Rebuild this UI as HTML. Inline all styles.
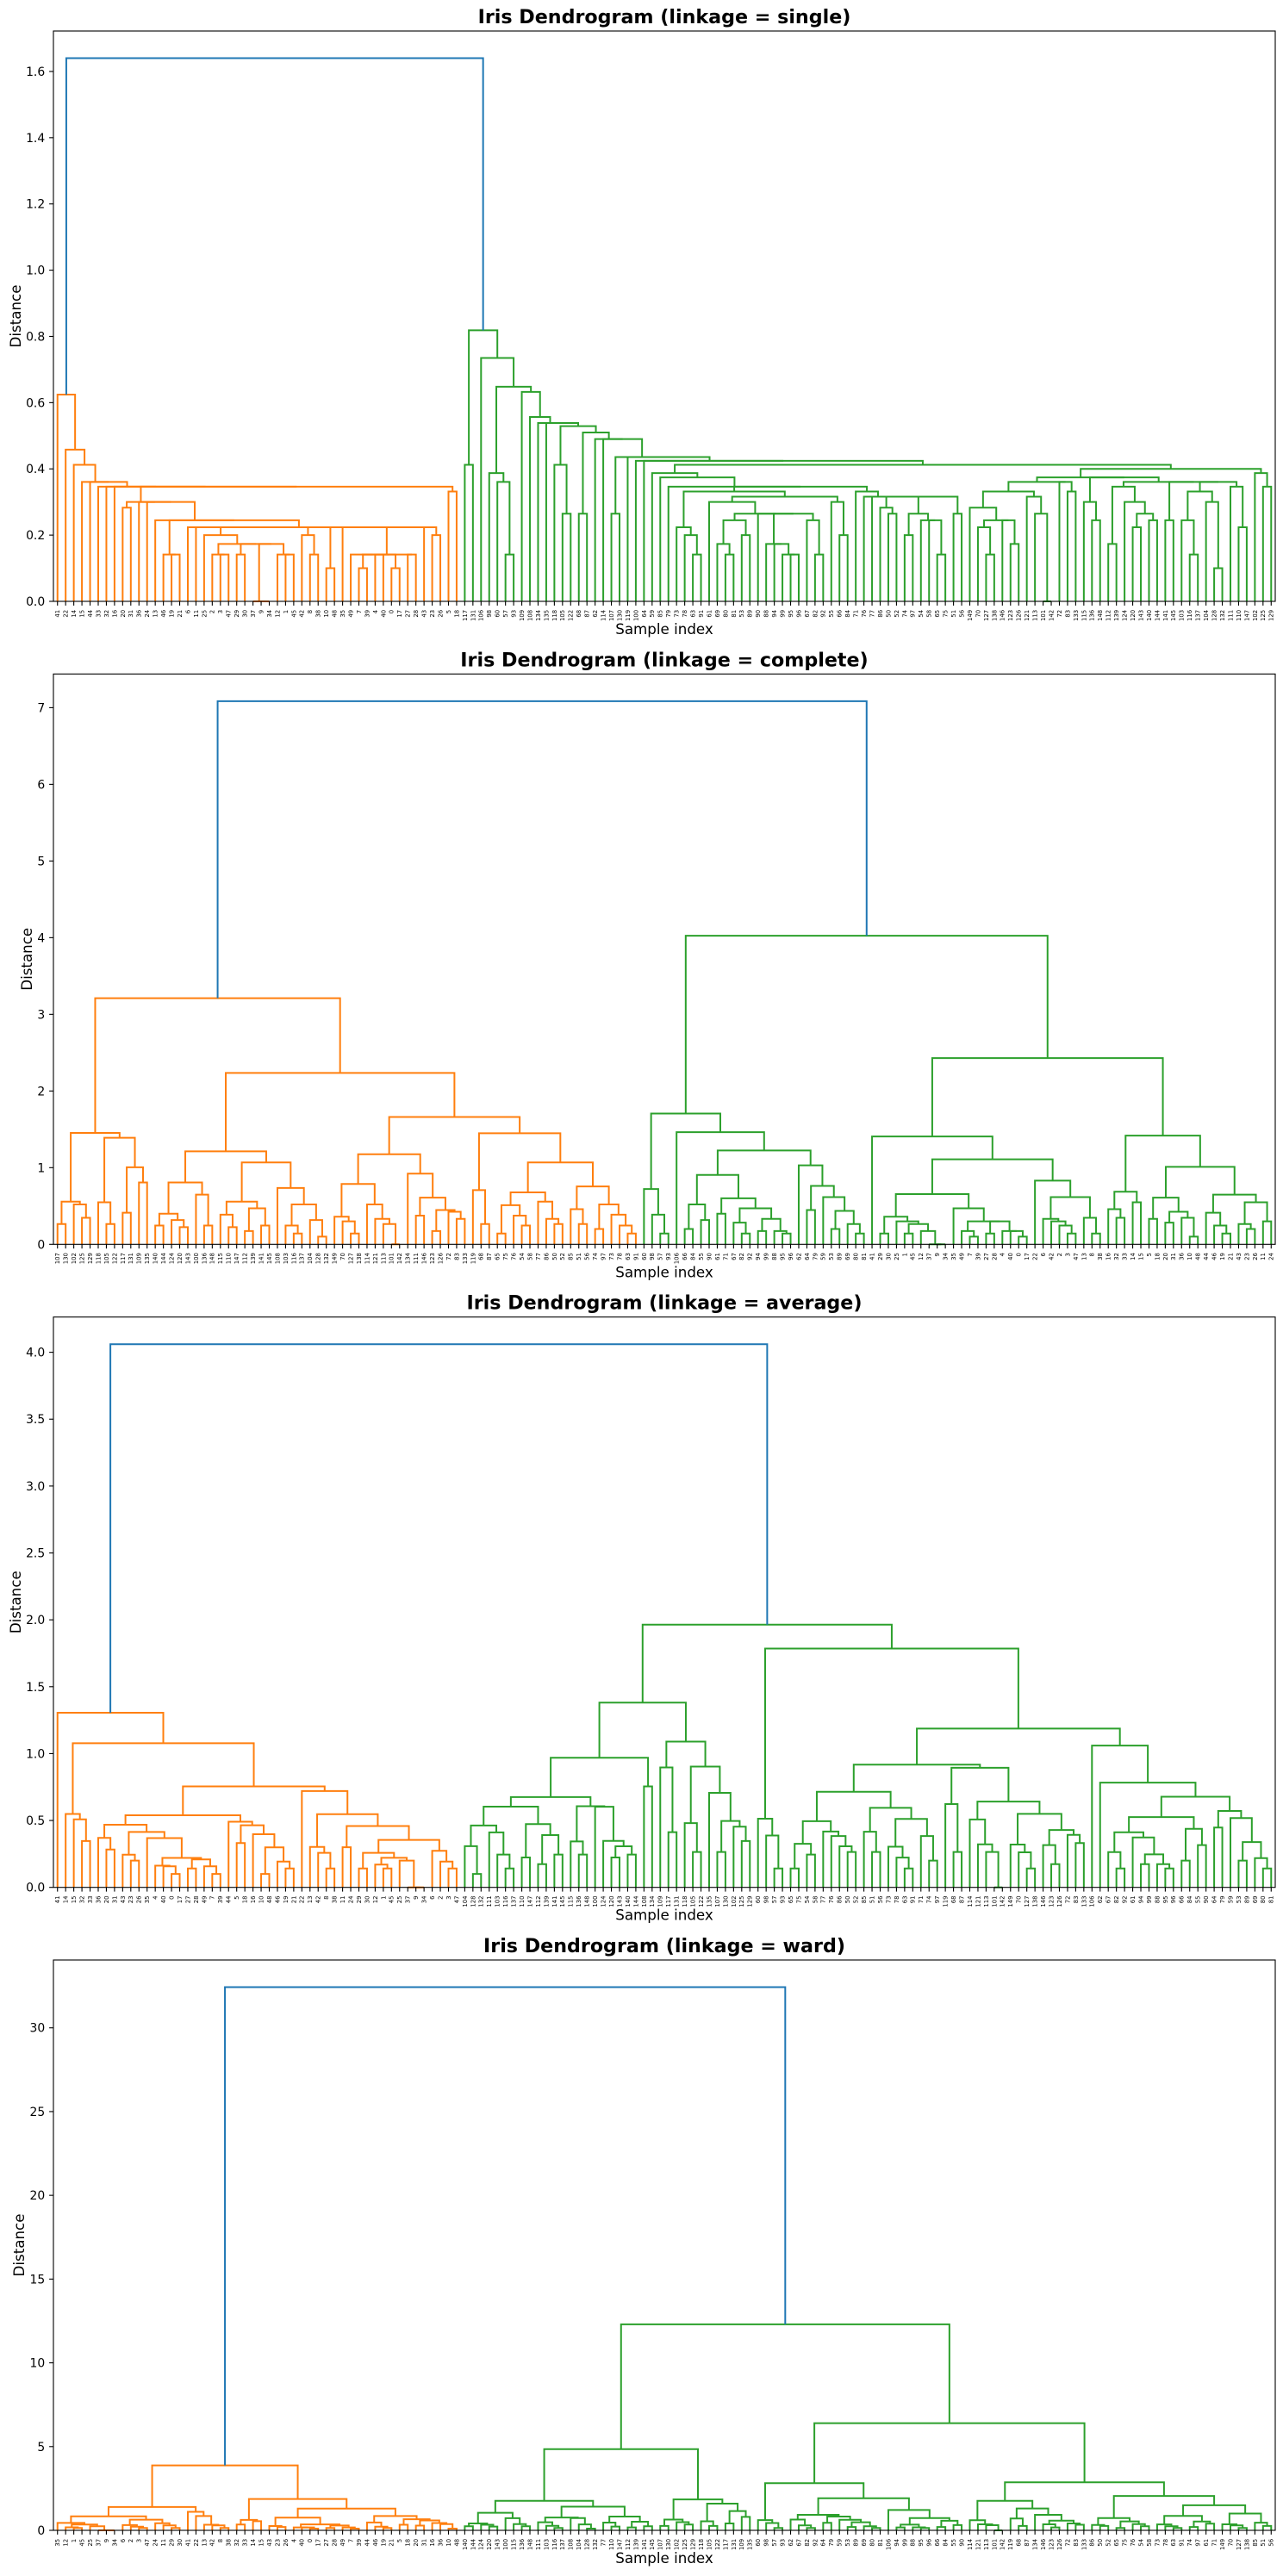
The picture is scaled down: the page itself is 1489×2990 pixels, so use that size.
<!DOCTYPE html>
<html><head><meta charset="utf-8"><style>
html,body{margin:0;padding:0;background:#fff;}
svg{display:block;}
text{font-family:"DejaVu Sans","Liberation Sans",sans-serif;}
</style></head><body>
<svg id="s" xmlns="http://www.w3.org/2000/svg" width="1489" height="2990" viewBox="0 0 1489 2990"><rect width="1489" height="2990" fill="#fff"/></svg>
<script>
const raw=`5.1,3.5,1.4,0.2;4.9,3.0,1.4,0.2;4.7,3.2,1.3,0.2;4.6,3.1,1.5,0.2;5.0,3.6,1.4,0.2;5.4,3.9,1.7,0.4;4.6,3.4,1.4,0.3;5.0,3.4,1.5,0.2;4.4,2.9,1.4,0.2;4.9,3.1,1.5,0.1;5.4,3.7,1.5,0.2;4.8,3.4,1.6,0.2;4.8,3.0,1.4,0.1;4.3,3.0,1.1,0.1;5.8,4.0,1.2,0.2;5.7,4.4,1.5,0.4;5.4,3.9,1.3,0.4;5.1,3.5,1.4,0.3;5.7,3.8,1.7,0.3;5.1,3.8,1.5,0.3;5.4,3.4,1.7,0.2;5.1,3.7,1.5,0.4;4.6,3.6,1.0,0.2;5.1,3.3,1.7,0.5;4.8,3.4,1.9,0.2;5.0,3.0,1.6,0.2;5.0,3.4,1.6,0.4;5.2,3.5,1.5,0.2;5.2,3.4,1.4,0.2;4.7,3.2,1.6,0.2;4.8,3.1,1.6,0.2;5.4,3.4,1.5,0.4;5.2,4.1,1.5,0.1;5.5,4.2,1.4,0.2;4.9,3.1,1.5,0.1;5.0,3.2,1.2,0.2;5.5,3.5,1.3,0.2;4.9,3.1,1.5,0.1;4.4,3.0,1.3,0.2;5.1,3.4,1.5,0.2;5.0,3.5,1.3,0.3;4.5,2.3,1.3,0.3;4.4,3.2,1.3,0.2;5.0,3.5,1.6,0.6;5.1,3.8,1.9,0.4;4.8,3.0,1.4,0.3;5.1,3.8,1.6,0.2;4.6,3.2,1.4,0.2;5.3,3.7,1.5,0.2;5.0,3.3,1.4,0.2;7.0,3.2,4.7,1.4;6.4,3.2,4.5,1.5;6.9,3.1,4.9,1.5;5.5,2.3,4.0,1.3;6.5,2.8,4.6,1.5;5.7,2.8,4.5,1.3;6.3,3.3,4.7,1.6;4.9,2.4,3.3,1.0;6.6,2.9,4.6,1.3;5.2,2.7,3.9,1.4;5.0,2.0,3.5,1.0;5.9,3.0,4.2,1.5;6.0,2.2,4.0,1.0;6.1,2.9,4.7,1.4;5.6,2.9,3.6,1.3;6.7,3.1,4.4,1.4;5.6,3.0,4.5,1.5;5.8,2.7,4.1,1.0;6.2,2.2,4.5,1.5;5.6,2.5,3.9,1.1;5.9,3.2,4.8,1.8;6.1,2.8,4.0,1.3;6.3,2.5,4.9,1.5;6.1,2.8,4.7,1.2;6.4,2.9,4.3,1.3;6.6,3.0,4.4,1.4;6.8,2.8,4.8,1.4;6.7,3.0,5.0,1.7;6.0,2.9,4.5,1.5;5.7,2.6,3.5,1.0;5.5,2.4,3.8,1.1;5.5,2.4,3.7,1.0;5.8,2.7,3.9,1.2;6.0,2.7,5.1,1.6;5.4,3.0,4.5,1.5;6.0,3.4,4.5,1.6;6.7,3.1,4.7,1.5;6.3,2.3,4.4,1.3;5.6,3.0,4.1,1.3;5.5,2.5,4.0,1.3;5.5,2.6,4.4,1.2;6.1,3.0,4.6,1.4;5.8,2.6,4.0,1.2;5.0,2.3,3.3,1.0;5.6,2.7,4.2,1.3;5.7,3.0,4.2,1.2;5.7,2.9,4.2,1.3;6.2,2.9,4.3,1.3;5.1,2.5,3.0,1.1;5.7,2.8,4.1,1.3;6.3,3.3,6.0,2.5;5.8,2.7,5.1,1.9;7.1,3.0,5.9,2.1;6.3,2.9,5.6,1.8;6.5,3.0,5.8,2.2;7.6,3.0,6.6,2.1;4.9,2.5,4.5,1.7;7.3,2.9,6.3,1.8;6.7,2.5,5.8,1.8;7.2,3.6,6.1,2.5;6.5,3.2,5.1,2.0;6.4,2.7,5.3,1.9;6.8,3.0,5.5,2.1;5.7,2.5,5.0,2.0;5.8,2.8,5.1,2.4;6.4,3.2,5.3,2.3;6.5,3.0,5.5,1.8;7.7,3.8,6.7,2.2;7.7,2.6,6.9,2.3;6.0,2.2,5.0,1.5;6.9,3.2,5.7,2.3;5.6,2.8,4.9,2.0;7.7,2.8,6.7,2.0;6.3,2.7,4.9,1.8;6.7,3.3,5.7,2.1;7.2,3.2,6.0,1.8;6.2,2.8,4.8,1.8;6.1,3.0,4.9,1.8;6.4,2.8,5.6,2.1;7.2,3.0,5.8,1.6;7.4,2.8,6.1,1.9;7.9,3.8,6.4,2.0;6.4,2.8,5.6,2.2;6.3,2.8,5.1,1.5;6.1,2.6,5.6,1.4;7.7,3.0,6.1,2.3;6.3,3.4,5.6,2.4;6.4,3.1,5.5,1.8;6.0,3.0,4.8,1.8;6.9,3.1,5.4,2.1;6.7,3.1,5.6,2.4;6.9,3.1,5.1,2.3;5.8,2.7,5.1,1.9;6.8,3.2,5.9,2.3;6.7,3.3,5.7,2.5;6.7,3.0,5.2,2.3;6.3,2.5,5.0,1.9;6.5,3.0,5.2,2.0;6.2,3.4,5.4,2.3;5.9,3.0,5.1,1.8`;
const X=raw.split(';').map(r=>r.split(',').map(Number));
const n=X.length;
function dist0(){const D=new Float64Array(n*n);for(let i=0;i<n;i++)for(let j=i+1;j<n;j++){let s=0;for(let k=0;k<4;k++){const d=X[i][k]-X[j][k];s+=d*d;}D[i*n+j]=D[j*n+i]=Math.sqrt(s);}return D;}
function label(Z){const par=new Int32Array(2*n-1);for(let i=0;i<par.length;i++)par[i]=i;let nl=n;
 function find(x){let r=x;while(par[r]!==r)r=par[r];while(par[x]!==r){const p=par[x];par[x]=r;x=p;}return r;}
 for(const z of Z){const a=find(z[0]),b=find(z[1]);if(a<b){z[0]=a;z[1]=b;}else{z[0]=b;z[1]=a;}par[a]=nl;par[b]=nl;nl++;}return Z;}
function sortZ(Z){return Z.map((z,i)=>[z,i]).sort((a,b)=>a[0][2]-b[0][2]||a[1]-b[1]).map(a=>a[0]);}
function single(){const Dm=dist0();const Z=[];const merged=new Uint8Array(n);const D=new Float64Array(n).fill(Infinity);let x=0;
 for(let k=0;k<n-1;k++){let cm=Infinity,y=-1;merged[x]=1;for(let i=0;i<n;i++){if(merged[i])continue;const d=Dm[x*n+i];if(D[i]>d)D[i]=d;if(D[i]<cm){y=i;cm=D[i];}}Z.push([x,y,cm]);x=y;}
 return label(sortZ(Z));}
function nnchain(method){const D=dist0();const Z=[];const size=new Float64Array(n).fill(1);const chain=new Int32Array(n);let cl=0;
 for(let k=0;k<n-1;k++){let x,y,cm;
  if(cl===0){cl=1;for(let i=0;i<n;i++)if(size[i]>0){chain[0]=i;break;}}
  while(true){x=chain[cl-1];if(cl>1){y=chain[cl-2];cm=D[x*n+y];}else cm=Infinity;
   for(let i=0;i<n;i++){if(size[i]===0||x===i)continue;const d=D[x*n+i];if(d<cm){cm=d;y=i;}}
   if(cl>1&&y===chain[cl-2])break;chain[cl]=y;cl++;}
  cl-=2;if(x>y){const t=x;x=y;y=t;}
  const nx=size[x],ny=size[y];Z.push([x,y,cm]);size[x]=0;size[y]=nx+ny;
  for(let i=0;i<n;i++){const ni=size[i];if(ni===0||i===y)continue;const dxi=D[i*n+x],dyi=D[i*n+y];let v;
   if(method==='complete')v=Math.max(dxi,dyi);
   else if(method==='average')v=(nx*dxi+ny*dyi)/(nx+ny);
   else{const t=1/(nx+ny+ni);v=Math.sqrt((ni+nx)*t*dxi*dxi+(ni+ny)*t*dyi*dyi-ni*t*cm*cm);}
   D[i*n+y]=D[y*n+i]=v;}}
 return label(sortZ(Z));}
const svg=document.getElementById('s');let out='';
const CC=['#ff7f0e','#2ca02c','#d62728','#9467bd','#8c564b','#e377c2','#7f7f7f','#bcbd22','#17becf'];
const L=62,R=1480;
function plot(Z,name,top,ticks,fmt,ylx){
 const bot=top+662;const maxh=Math.max(...Z.map(z=>z[2]));const ymax=maxh*1.05;
 const sx=v=>L+(R-L)*v/1500, sy=h=>bot-(bot-top)*h/ymax;
 const thr=0.7*maxh;const leaves=[];let ci=0;const segs=[];
 function walk(id,col){if(id<n){const x=5+10*leaves.length;leaves.push(id);return [x,0];}
  const z=Z[id-n];const h=z[2];let c=col;
  if(h>=thr)c='#1f77b4';else if(!col||col==='#1f77b4'){c=CC[ci%CC.length];ci++;}
  const a=walk(z[0],c),b=walk(z[1],c);
  segs.push([c,`M${sx(a[0]).toFixed(2)} ${sy(a[1]).toFixed(2)}V${sy(h).toFixed(2)}H${sx(b[0]).toFixed(2)}V${sy(b[1]).toFixed(2)}`]);
  return [(a[0]+b[0])/2,h];}
 walk(2*n-2,null);
 for(const s of segs)out+=`<path d="${s[1]}" fill="none" stroke="${s[0]}" stroke-width="2"/>`;
 out+=`<rect x="${L}" y="${top}" width="${R-L}" height="${bot-top}" fill="none" stroke="#000" stroke-width="1.1"/>`;
 for(const t of ticks){if(t>ymax)continue;const y=sy(t);out+=`<line x1="${L}" x2="${L-4.9}" y1="${y}" y2="${y}" stroke="#000" stroke-width="1.1"/><text x="${L-9.8}" y="${y+5}" font-size="13.9" text-anchor="end">${fmt(t)}</text>`;}
 leaves.forEach((id,k)=>{const x=sx(5+10*k);out+=`<line x1="${x}" x2="${x}" y1="${bot}" y2="${bot+4.9}" stroke="#000" stroke-width="1.1"/><text transform="translate(${(x+2.4).toFixed(2)},${bot+9.8}) rotate(-90)" font-size="6.9" text-anchor="end">${id}</text>`;});
 out+=`<text x="${(L+R)/2}" y="${top-9}" font-size="22.2" font-weight="bold" text-anchor="middle">Iris Dendrogram (linkage = ${name})</text>`;
 out+=`<text x="${(L+R)/2}" y="${bot+38}" font-size="16.7" text-anchor="middle">Sample index</text>`;
 out+=`<text transform="translate(${ylx},${(top+bot)/2}) rotate(-90)" font-size="16.7" text-anchor="middle" dominant-baseline="central">Distance</text>`;
}
const f1=t=>t.toFixed(1),f0=t=>t.toFixed(0);
const rng=(a,b,s)=>{const r=[];for(let v=a;v<=b+1e-9;v+=s)r.push(Math.round(v*1000)/1000);return r;};
plot(single(),'single',36,rng(0,1.6,0.2),f1,18);
plot(nnchain('complete'),'complete',782.3,rng(0,7,1),f0,31);
plot(nnchain('average'),'average',1528.7,rng(0,4,0.5),f1,18);
plot(nnchain('ward'),'ward',2275,rng(0,30,5),f0,22);
svg.insertAdjacentHTML('beforeend',out);
</script>
</body></html>
